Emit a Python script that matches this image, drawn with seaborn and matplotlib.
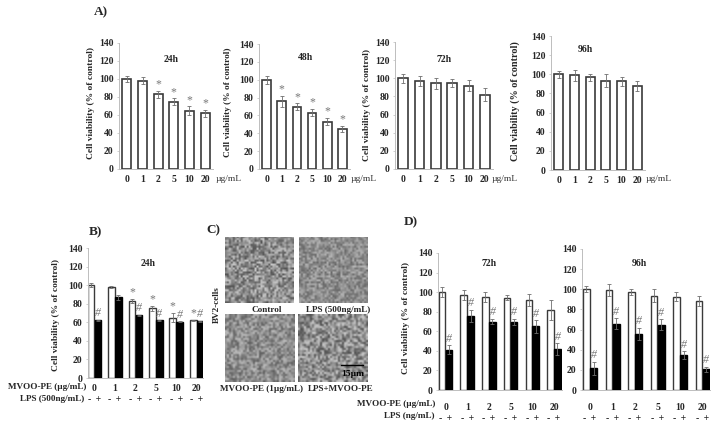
import numpy as np
import pandas as pd
import matplotlib
matplotlib.use('Agg')
import matplotlib.pyplot as plt
import seaborn as sns

W, H = 718, 429

doses = ['0', '1', '2', '5', '10', '20']

# panel A
a24_mean = [100, 98, 83, 75, 65, 62]
a24_err = [3.5, 4, 4, 3.5, 4.5, 4]
a24_mark = ['', '', '*', '*', '*', '*']
a48_mean = [100, 76, 70, 63, 53, 45]
a48_err = [4.5, 6, 3.5, 4, 4, 3.5]
a48_mark = ['', '*', '*', '*', '*', '*']
a72_mean = [100, 97, 94.5, 94.5, 92, 82]
a72_err = [5, 5.5, 6, 4.5, 6, 7]
a96_mean = [100, 99, 97, 93.5, 92.5, 88]
a96_err = [3.5, 6, 3.5, 6.5, 4.5, 5]
no_mark = ['', '', '', '', '', '']

# panel B
b_ctrl = [100, 98, 83, 75, 65, 62]
b_ctrl_err = [2.5, 1, 2, 2.5, 5, 0.5]
b_lps = [62, 87, 67.5, 62, 60.5, 61]
b_lps_err = [1, 2.5, 0.5, 0.5, 0.5, 0.5]
b_ctrl_mark = ['', '', '*', '*', '*', '*']
b_lps_mark = ['#', '', '#', '#', '#', '#']

# panel D
d72_ctrl = [100, 97, 95, 94.5, 92, 82]
d72_ctrl_err = [5, 5.5, 5.5, 2.5, 6, 10]
d72_lps = [41, 76, 70, 69.5, 65, 42]
d72_lps_err = [4.5, 6, 3, 3.5, 6.5, 6]
d96_ctrl = [100, 99, 97, 93.5, 92.5, 88]
d96_ctrl_err = [3, 6, 3, 6.5, 4.5, 5]
d96_lps = [21.5, 66, 56, 65, 34.5, 20.5]
d96_lps_err = [6.5, 5, 6, 5.5, 4, 2.5]
all_hash = ['#', '#', '#', '#', '#', '#']

yticks = [0, 20, 40, 60, 80, 100, 120, 140]

sns.set_theme(style='white')
plt.rcParams['font.family'] = ['Liberation Serif', 'DejaVu Serif']
plt.rcParams['font.weight'] = 'bold'

fig = plt.figure(figsize=(W / 100, H / 100), dpi=100)
DARK = '#3a3a3a'
GREY = '#777777'


def px_axes(left, right, top, bottom):
    return fig.add_axes([left / W, 1 - bottom / H, (right - left) / W, (bottom - top) / H])


def px_text(x, y, s, size=6.5, **kw):
    kw.setdefault('ha', 'center')
    kw.setdefault('va', 'center')
    fig.text(x / W, 1 - y / H, s, fontsize=size, **kw)


def style_axes(ax, xlim, pad):
    ax.set_ylim(0, 140)
    ax.set_xlim(*xlim)
    ax.set_yticks(yticks)
    ax.set_xlabel('')
    ax.set_ylabel('')
    sns.despine(ax=ax)
    for side in ['left', 'bottom']:
        ax.spines[side].set_color('#bdbdbd')
        ax.spines[side].set_linewidth(0.7)
    ax.tick_params(axis='y', labelsize=7, length=1.5, width=0.5, color='#bdbdbd', pad=2.5, left=True)
    ax.tick_params(axis='x', labelsize=7, length=0, pad=pad, bottom=False)


def add_errs(ax, patches, errs, marks, marker_size=8.5):
    for p, e, m in zip(patches, errs, marks):
        cx = p.get_x() + p.get_width() / 2
        top = p.get_height()
        ax.errorbar(cx, top, yerr=e, color='#6e6e6e', lw=0.6, capsize=1.6, capthick=0.6, zorder=4)
        if m:
            style = 'italic' if m == '#' else 'normal'
            ax.annotate(m, (cx, top + e), xytext=(0, 0.3), textcoords='offset points', ha='center', va='bottom',
                        fontsize=marker_size, color=GREY, style=style, fontweight='normal')


def single_panel(box, mean, err, marks):
    ax = px_axes(*box)
    sns.barplot(x=doses, y=mean, order=doses, color='white', width=0.58, errorbar=None,
                edgecolor=DARK, linewidth=1.2, ax=ax)
    style_axes(ax, (-0.5, 5.5), 4)
    add_errs(ax, ax.containers[0], err, marks)
    return ax


def paired_panel(box, ctrl, ctrl_err, lps, lps_err, ctrl_marks, lps_marks, xlim, width, pad):
    frame = pd.DataFrame({
        'dose': doses * 2,
        'viability': ctrl + lps,
        'lps': ['-'] * 6 + ['+'] * 6,
    })
    ax = px_axes(*box)
    sns.barplot(data=frame, x='dose', y='viability', hue='lps', order=doses, hue_order=['-', '+'],
                palette={'-': 'white', '+': 'black'}, width=width, gap=0.04, errorbar=None, legend=False,
                edgecolor=DARK, linewidth=1.0, ax=ax)
    for p in ax.containers[1]:
        p.set_edgecolor('black')
    style_axes(ax, xlim, pad)
    ax.set_xticks(range(6))
    ax.set_xticklabels([d + '\n- \u2009+' for d in doses], linespacing=1.3)
    add_errs(ax, ax.containers[0], ctrl_err, ctrl_marks)
    add_errs(ax, ax.containers[1], lps_err, lps_marks)
    return ax


# panel A
single_panel((119, 213, 43, 169), a24_mean, a24_err, a24_mark)
single_panel((259, 350, 44, 169), a48_mean, a48_err, a48_mark)
single_panel((395, 493, 42, 169), a72_mean, a72_err, no_mark)
single_panel((551, 645, 36, 170), a96_mean, a96_err, no_mark)

# panel B and D
paired_panel((88, 203, 248, 378), b_ctrl, b_ctrl_err, b_lps, b_lps_err, b_ctrl_mark, b_lps_mark,
             (-0.32, 5.31), 0.68, 4.5)
paired_panel((438, 562, 253, 390), d72_ctrl, d72_ctrl_err, d72_lps, d72_lps_err, no_mark, all_hash,
             (-0.35, 5.37), 0.64, 9)
paired_panel((582, 710, 249, 390), d96_ctrl, d96_ctrl_err, d96_lps, d96_lps_err, no_mark, all_hash,
             (-0.36, 5.33), 0.64, 9)


# panel C stand-in for the micrographs: grey grain from a fixed hash, not data
def grain(seed, contrast):
    xx, yy = np.meshgrid(np.arange(35.0), np.arange(34.0))
    h = np.sin(xx * 12.9898 + yy * 78.233 + seed) * 43758.5453
    return 160 + contrast * (h - np.floor(h) - 0.5)


for box, seed, contrast in [((225, 294, 237, 303), 0.3, 85),
                            ((299, 368, 237, 303), 1.1, 55),
                            ((225, 295, 314, 382), 2.2, 70),
                            ((298, 367, 314, 382), 3.7, 95)]:
    ax = px_axes(*box)
    ax.imshow(grain(seed, contrast), cmap='gray', vmin=60, vmax=240, aspect='auto', interpolation='bilinear')
    ax.axis('off')
    if seed == 3.7:
        ax.plot([21.5, 32.5], [25, 25], color='black', lw=1)
        ax.text(27, 29.5, '15µm', fontsize=6.8, ha='center', va='center', color='black')

# labels
for x, y, s in [(101, 12, 'A)'), (95, 232, 'B)'), (213, 230, 'C)'), (411, 222, 'D)')]:
    px_text(x, y, s, size=9.5)

for x, y, s in [(171, 60, '24h'), (305, 57, '48h'), (444, 60, '72h'), (585, 50, '96h'),
                (148, 264, '24h'), (489, 264, '72h'), (639, 263, '96h')]:
    px_text(x, y, s, size=7)

for x, y, size in [(91, 103, 6.8), (228, 102, 6.7), (367, 105, 6.8), (515, 101, 7.3), (56, 315, 6.8), (406, 318, 6.8)]:
    px_text(x, y, 'Cell viability (% of control)', size=size, rotation=90)

for x in [229, 364, 505, 659]:
    px_text(x, 179, 'µg/mL', size=6.8, fontweight='normal', color='#333333')

px_text(86, 387, 'MVOO-PE (µg/mL)', size=6.6, ha='right')
px_text(84, 399, 'LPS (500ng/mL)', size=6.6, ha='right')
px_text(435, 404, 'MVOO-PE (µg/mL)', size=6.6, ha='right')
px_text(435, 416, 'LPS (ng/mL)', size=6.6, ha='right')

px_text(267, 310, 'Control', size=6.6)
px_text(338, 310, 'LPS (500ng/mL)', size=6.6)
px_text(262, 389, 'MVOO-PE (1µg/mL)', size=6.6)
px_text(341, 389, 'LPS+MVOO-PE', size=6.6)
px_text(217, 305, 'BV2-cells', size=6.6, rotation=90)

fig.savefig('out.png', dpi=100)
